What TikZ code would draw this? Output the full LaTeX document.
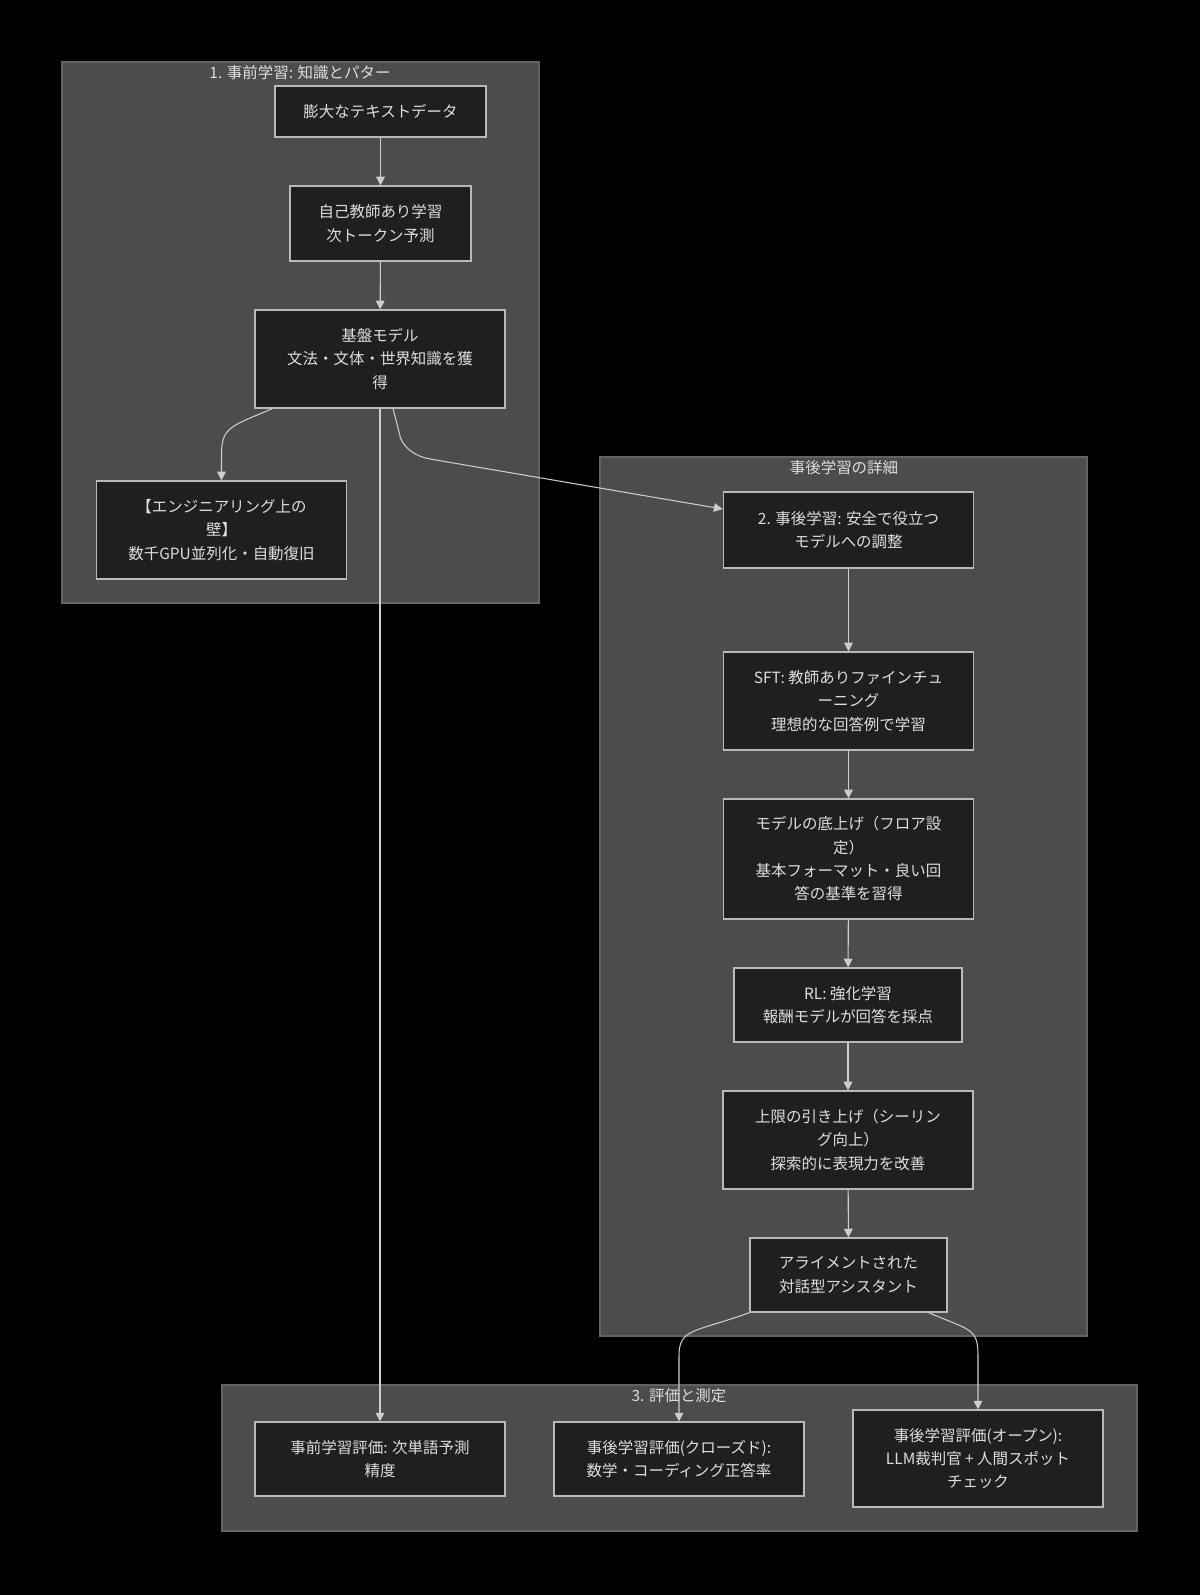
\documentclass[tikz,border=0pt]{standalone}
\usepackage{xcolor}
\usepackage{fontspec}
\setmainfont{Noto Sans CJK JP}
\usepackage{tikz}
\usetikzlibrary{arrows.meta}

\definecolor{clfill}{RGB}{75,76,75}
\definecolor{clline}{RGB}{98,99,98}
\definecolor{boxfill}{RGB}{31,31,31}
\definecolor{boxline}{RGB}{185,185,185}
\definecolor{txt}{RGB}{222,222,222}
\definecolor{lnk}{RGB}{205,205,205}

\tikzset{
  box/.style={draw=boxline, fill=boxfill, line width=0.9pt, text=txt, align=center,
    inner sep=0.75pt, minimum width=188pt, minimum height=73.5pt,
    font=\fontsize{11.6}{17.5}\selectfont},
  cluster/.style={draw=clline, fill=clfill, line width=0.8pt},
  cltitle/.style={text=txt, inner sep=0.75pt, font=\fontsize{11.6}{17.5}\selectfont},
  edge/.style={draw=lnk, line width=0.8pt, -{Triangle[length=6.5pt,width=6.5pt]}}
}

\begin{document}
\begin{tikzpicture}[x=0.75pt,y=0.75pt,yscale=-1,xscale=1]
        \fill[black] (0,0) rectangle (1200,1595);
        \useasboundingbox (0,0) rectangle (1200,1595);

        % subgraphs
        \draw[cluster] (62,62) rectangle (539,603);
        \draw[cluster] (600,457) rectangle (1087,1336);
        \draw[cluster] (222,1385) rectangle (1137,1531);

        \draw (300,73) node (t1) [cltitle] {1. 事前学習: 知識とパター};
        \draw (844,468) node (t2) [cltitle] {事後学習の詳細};
        \draw (679,1396) node (t3) [cltitle] {3. 評価と測定};

        % pre-training
        \draw (380.5,111.5) node (data) [box, minimum width=158.25pt, minimum height=38.25pt] {膨大なテキストデータ};
        \draw (380.5,223.5) node (ssl) [box, minimum width=135.75pt, minimum height=56.25pt] {自己教師あり学習\\次トークン予測};
        \draw (380,359) node (base) [box, minimum width=187.5pt] {基盤モデル\\文法・文体・世界知識を獲\\得};
        \draw (221.5,530) node (wall) [box] {【エンジニアリング上の\\壁】\\数千GPU並列化・自動復旧};

        % post-training
        \draw (848.5,530) node (post) [box, minimum height=57pt] {2. 事後学習: 安全で役立つ\\モデルへの調整};
        \draw (848.5,701) node (sft) [box] {SFT: 教師ありファインチュ\\ーニング\\理想的な回答例で学習};
        \draw (848.5,859) node (floor) [box, minimum height=90pt] {モデルの底上げ（フロア設\\定）\\基本フォーマット・良い回\\答の基準を習得};
        \draw (848,1005) node (rl) [box, minimum width=171pt, minimum height=55.5pt] {RL: 強化学習\\報酬モデルが回答を採点};
        \draw (848,1140) node (ceil) [box, minimum width=187.5pt] {上限の引き上げ（シーリン\\グ向上）\\探索的に表現力を改善};
        \draw (848.5,1275) node (aligned) [box, minimum width=147.75pt, minimum height=55.5pt] {アライメントされた\\対話型アシスタント};

        % evaluation
        \draw (380,1459) node (preeval) [box, minimum width=187.5pt, minimum height=55.5pt] {事前学習評価: 次単語予測\\精度};
        \draw (679,1459) node (closed) [box, minimum width=187.5pt, minimum height=55.5pt] {事後学習評価(クローズド):\\数学・コーディング正答率};
        \draw (978,1458.5) node (open) [box, minimum width=187.5pt, minimum height=72.75pt] {事後学習評価(オープン):\\LLM裁判官 + 人間スポット\\チェック};

        % links
        \draw[edge] (data) -- (ssl);
        \draw[edge] (ssl) -- (base);
        \draw[edge] ([xshift=13.5pt]base.south west) .. controls +(-42,18) and +(0,-28) .. (wall.north |- 0,455) -- (wall.north);
        \draw[edge] (base.south) -- (preeval.north);
        \draw[edge] ([xshift=9.75pt]base.south) -- (399,432) .. controls (401,447) and (415,456.4) .. (430,459) -- ([yshift=-15.75pt]post.west);
        \draw[edge] (post) -- (sft);
        \draw[edge] (sft) -- (floor);
        \draw[edge] (floor) -- (rl);
        \draw[edge] (rl) -- (ceil);
        \draw[edge] (ceil) -- (aligned);
        \draw[edge] (aligned.south west) .. controls +(-55,20) and +(0,-28) .. (closed.north |- 0,1356) -- (closed.north);
        \draw[edge] ([xshift=-14.25pt]aligned.south east) .. controls +(42,18) and +(0,-28) .. (open.north |- 0,1356) -- (open.north);
    \end{tikzpicture}
\end{document}
